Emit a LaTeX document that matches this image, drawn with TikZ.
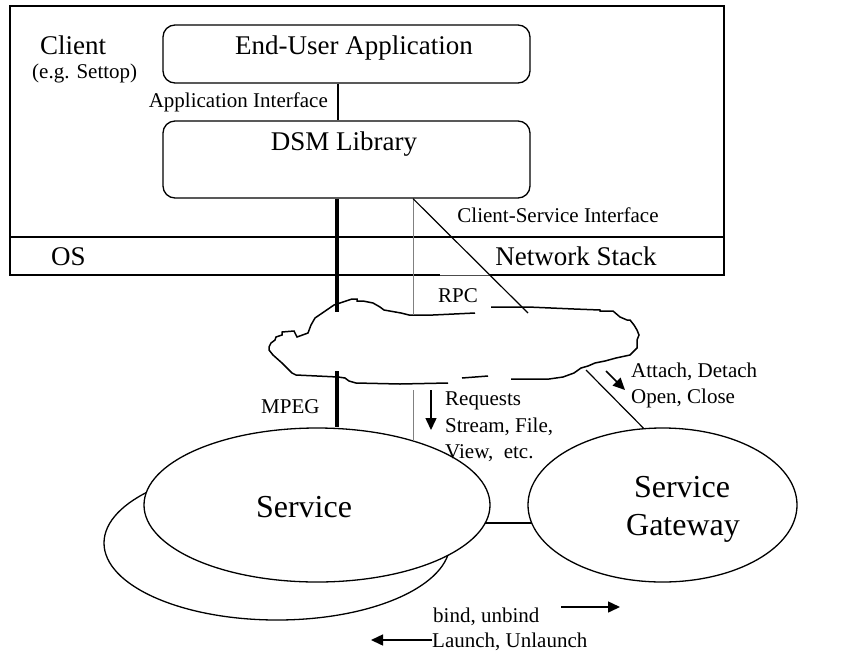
\documentclass[tikz,border=0pt]{standalone}
\usepackage{fontspec}
\setmainfont{Liberation Serif}
\usetikzlibrary{shapes.geometric,arrows.meta}
\begin{document}
\begin{tikzpicture}[x=1pt,y=-1pt,
  fs/.style={font=\fontsize{21}{26}\selectfont},
  fm/.style={font=\fontsize{27}{32}\selectfont},
  fl/.style={font=\fontsize{32}{38}\selectfont},
  lbl/.style={inner sep=0pt, anchor=base},
  lblw/.style={inner sep=0pt, anchor=base west},
  lble/.style={inner sep=0pt, anchor=base east},
  box/.style={draw, line width=1.3pt, rounded corners=12pt, inner sep=0pt},
  oval/.style={draw, ellipse, line width=1.3pt, inner sep=0pt, fill=white},
  thin/.style={line width=1.2pt},
  wire/.style={draw=black!50, line width=0.9pt},
  heavy/.style={line width=4pt},
  cloudline/.style={line width=1.5pt, line join=miter},
  tip/.style={-{Triangle[length=12pt,width=11pt]}, line width=1.5pt}
]
\useasboundingbox (0,0) rectangle (843,654);

% client frame and OS strip
\node[draw, line width=1.3pt, inner sep=0pt, minimum width=714pt, minimum height=269pt] (client) at (367,140.5) {};
\coordinate (osl) at (10,237);
\coordinate (osr) at (724,237);
\draw[line width=1.3pt] (osl) -- (osr);
% the frame edge above the RPC label is drawn finer
\coordinate (rpcL) at (440,275);
\coordinate (rpcR) at (490,275);
\draw[white, line width=1.6pt] (rpcL) -- (rpcR);
\draw[line width=0.6pt, draw=black!70] (rpcL) -- (rpcR);

% application and library boxes
\node[box, minimum width=367pt, minimum height=58pt] (app) at (346.5,54) {};
\node[box, minimum width=367pt, minimum height=77pt] (dsm) at (346.5,159.5) {};
\coordinate (ai) at (338,0);
\draw[thin] (app.south -| ai) -- (dsm.north -| ai);

% labels inside the client
\node[lblw, fm] (client-t) at (40,54) {Client};
\node[lblw, fs] (settop-t) at (32,78) {(e.g. Settop)};
\node[lbl, fm] (app-t) at (354,54) {End-User Application};
\node[lble, fs] (ai-t) at (328,107) {Application Interface};
\node[lbl, fm] (dsm-t) at (344,150) {DSM Library};
\node[lbl, fs] (csi-t) at (558,222) {Client-Service Interface};
\node[lblw, fm] (os-t) at (51,265) {OS};
\node[lbl, fm] (ns-t) at (576,265) {Network Stack};
\node[lbl, fs] (rpc-t) at (458,302) {RPC};

% network cloud
\draw[cloudline] (491,307) -- (528,307) -- (574,309) -- (600,310) -- (600,311) -- (613,311)
  -- (620,317) -- (627,320) -- (630,320) -- (634,325) -- (637,330) -- (639,335)
  -- (637,340) -- (637,348) -- (630,355) -- (616,358) -- (605,361) -- (595,363)
  -- (588,366) -- (581,368) -- (574,373) -- (563,377) -- (549,379) -- (511,379);
\draw[cloudline] (488,376) -- (475,377) -- (462,378);
\draw[cloudline] (448,383) -- (400,384) -- (356,383) -- (349,381) -- (345,378)
  -- (338,377) -- (296,375) -- (292,373) -- (282,363) -- (273,355) -- (269,350)
  -- (269,347) -- (271,343) -- (275,340) -- (276,337) -- (282,335) -- (282,332)
  -- (294,331) -- (297,337) -- (308,333) -- (311,325) -- (315,318) -- (334,305)
  -- (343,302) -- (352,299) -- (357,299) -- (357,301) -- (363,301) -- (373,303)
  -- (380,307) -- (384,310) -- (401,313) -- (409,315) -- (433,315) -- (475,313);

% links from the library through the network
\coordinate (cTop1) at (337,312);
\coordinate (cBot1) at (337,371);
\coordinate (cTop2) at (413,315);
\coordinate (cBot2) at (413,390);
\coordinate (csiEnd) at (528,313);
\draw[heavy] (dsm.south -| cTop1) -- (cTop1);
\draw[wire] (dsm.south -| cTop2) -- (cTop2);
\draw[thin] (dsm.south -| cTop2) -- (csiEnd);

% services
\node[oval, minimum width=346pt, minimum height=154pt] (svc2) at (277,543) {};
\node[oval, minimum width=346pt, minimum height=154pt] (svc) at (317,505) {};
\node[oval, minimum width=269pt, minimum height=154pt] (gw) at (662.5,505) {};
\node[lbl, fl] (svc-t) at (304,517) {Service};
\node[lbl, fl] (gw-t1) at (682,497) {Service};
\node[lbl, fl] (gw-t2) at (683,535) {Gateway};

\coordinate (svcRim) at (413,441);
\coordinate (gwLink) at (586,370);
\coordinate (gwRim) at (644,428.7);
\coordinate (sgL) at (485,523);
\coordinate (sgR) at (532,523);
\draw[heavy] (cBot1) -- (cBot1 |- svc.north);
\draw[wire] (cBot2) -- (svcRim);
\draw[thin] (gwLink) -- (gwRim);
\draw[thin] (sgL) -- (sgR);

\node[lblw, fs] (mpeg-t) at (261,413) {MPEG};

% request flow
\coordinate (rqA) at (431,390);
\coordinate (rqB) at (431,430);
\draw[tip] (rqA) -- (rqB);
\node[lblw, fs] (rq1) at (445,405) {Requests};
\node[lblw, fs] (rq2) at (445,432) {Stream, File,};
\node[lblw, fs] (rq3) at (445,458) {View,~ etc.};

% gateway calls
\coordinate (atA) at (606,371);
\coordinate (atB) at (625,390);
\draw[tip] (atA) -- (atB);
\node[lblw, fs] (at1) at (631,377) {Attach, Detach};
\node[lblw, fs] (at2) at (631,403) {Open, Close};

% binding calls
\coordinate (bdA) at (561,607);
\coordinate (bdB) at (620,607);
\coordinate (lnA) at (432,640);
\coordinate (lnB) at (371,640);
\draw[tip] (bdA) -- (bdB);
\draw[tip] (lnA) -- (lnB);
\node[lblw, fs] (bd-t) at (433,622) {bind, unbind};
\node[lblw, fs] (ln-t) at (432,647) {Launch, Unlaunch};
\end{tikzpicture}
\end{document}
